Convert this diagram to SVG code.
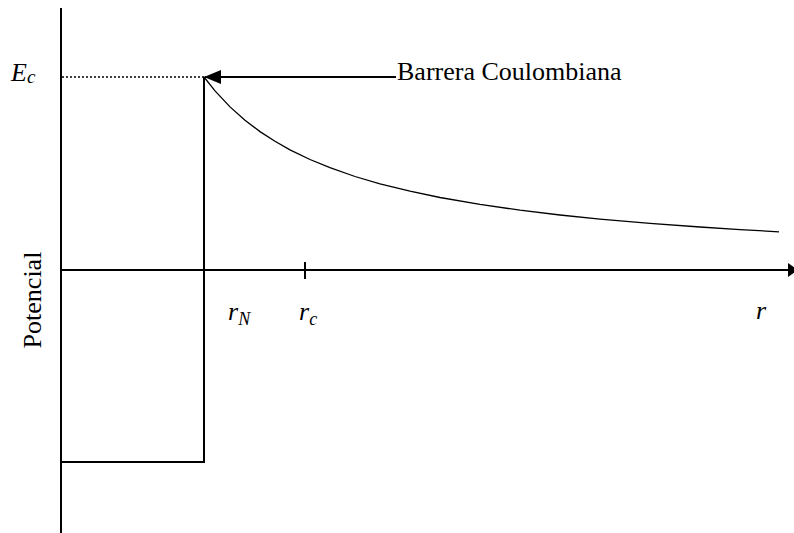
<svg xmlns="http://www.w3.org/2000/svg" width="794" height="533" viewBox="0 0 794 533">
<style>
.ln{stroke:#000;stroke-width:2;fill:none}
.thin{stroke:#000;stroke-width:1.3;fill:none}
.t{font-family:"Liberation Serif",serif;font-size:26px;fill:#000}
.i{font-style:italic}
</style>
<defs>
<marker id="ah" markerWidth="10" markerHeight="14" refX="9" refY="7" orient="auto" markerUnits="userSpaceOnUse" viewBox="0 0 10 14">
<path d="M0,0 L10,7 L0,14 z" fill="#000"/>
</marker>
<marker id="ah2" markerWidth="17" markerHeight="14" refX="16" refY="7" orient="auto" markerUnits="userSpaceOnUse" viewBox="0 0 17 14">
<path d="M0,0 L17,7 L0,14 z" fill="#000"/>
</marker>
</defs>
<g id="axes">
<line class="ln" x1="61" y1="8" x2="61" y2="533"/>
<line class="ln" x1="61" y1="270" x2="797" y2="270" marker-end="url(#ah)"/>
<line class="ln" x1="305" y1="262" x2="305" y2="279"/>
</g>
<g id="well">
<line x1="62" y1="77" x2="204" y2="77" stroke="#000" stroke-width="1.3" stroke-dasharray="2,2"/>
<polyline class="ln" points="204,77 204,462 61,462"/>
</g>
<g id="curve">
<polyline class="thin" points="204,77 215,90.9 230,106.9 245,120.2 260,131.6 275,141.3 290,149.8 310,159.5 330,167.7 355,176.5 380,183.8 410,191.2 440,197.5 480,204.4 520,210.2 560,215 600,219.1 650,223.4 700,227 740,229.6 779,231.8"/>
</g>
<g id="connectors">
<line class="ln" x1="396" y1="77" x2="205" y2="77" marker-end="url(#ah2)"/>
</g>
<g id="labels">
<text class="t i" x="11" y="81" font-size="28">E<tspan font-size="19" dy="2">c</tspan></text>
<text class="t" x="397" y="80">Barrera Coulombiana</text>
<text class="t i" x="228" y="320">r<tspan font-size="18" dy="5">N</tspan></text>
<text class="t i" x="299" y="320">r<tspan font-size="18" dy="5">c</tspan></text>
<text class="t i" x="756" y="319">r</text>
<text class="t" font-size="24" transform="translate(41,300) rotate(-90)" text-anchor="middle">Potencial</text>
</g>
</svg>
